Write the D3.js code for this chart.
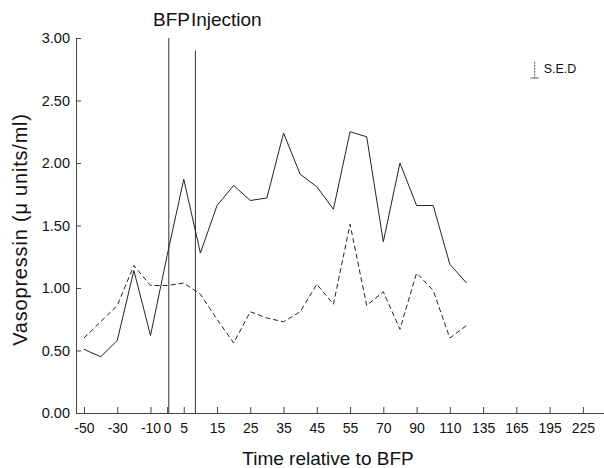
<!DOCTYPE html>
<html>
<head>
<meta charset="utf-8">
<script src="https://cdn.jsdelivr.net/npm/d3@7"></script>
<style>
  body { margin: 0; background: #fff; }
  svg { display: block; font-family: "Liberation Sans", Arial, Helvetica, sans-serif; }
</style>
</head>
<body>
<figure style="margin:0"></figure>
<script>
// time points (minutes relative to BFP), one category each
const times = [-50,-40,-30,-20,-10,0,5,10,15,20,25,30,35,40,45,50,55,60,70,80,90,100,110,120,135,150,165,180,195,210,225]
const tickTimes = [-50,-30,-10,0,5,15,25,35,45,55,70,90,110,135,165,195,225]
const yTicks = [0,0.5,1,1.5,2,2.5,3]

// measured times for the two curves
const seriesTimes = [-50,-40,-30,-20,-10,0,5,10,15,20,25,30,35,40,45,50,55,60,70,80,90,100,110,120]
const solidValues = [0.51,0.45,0.58,1.14,0.62,1.26,1.87,1.28,1.66,1.82,1.70,1.72,2.24,1.91,1.81,1.63,2.25,2.21,1.37,2.00,1.66,1.66,1.19,1.04]
const dashedValues = [0.60,0.73,0.86,1.18,1.02,1.02,1.04,0.95,0.75,0.56,0.81,0.76,0.73,0.81,1.03,0.87,1.51,0.86,0.97,0.67,1.12,0.98,0.60,0.70]

// BFP injection markers (time, top of line)
const injectTimes = [0.5, 8.5]
const injectTops = [3.0, 2.9]
const sedSize = 0.13

const svg = d3.select("figure").append("svg").attr("width", 604).attr("height", 468),
    margin = {top: 38, bottom: 55, left: 76, right: 0},
    width = 604 - margin.left - margin.right,
    height = 468 - margin.top - margin.bottom,
    chart = svg.append("g").attr("transform", `translate(${margin.left},${margin.top})`),
    x = d3.scaleLinear().domain([-0.48, 31.27]).range([0, width]),
    y = d3.scaleLinear().domain([0, 3]).range([height, 0])

// time -> fractional category index
const tIndex = t => {
    const i = d3.bisectRight(times, t) - 1
    if (i >= times.length - 1) return times.length - 1
    return i + (t - times[i]) / (times[i+1] - times[i])
}

// axes
const xAxis = chart.append("g").attr("transform", `translate(0,${height})`)
    .call(d3.axisBottom(x).tickValues(tickTimes.map(tIndex)).tickFormat(i => times[i])
        .tickSizeInner(-6).tickSizeOuter(0).tickPadding(10))
xAxis.selectAll("text").style("font-size", "14px").attr("fill", "#111")

const yAxis = chart.append("g")
    .call(d3.axisLeft(y).tickValues(yTicks).tickFormat(d3.format(".2f"))
        .tickSizeInner(-5).tickSizeOuter(0).tickPadding(6))
yAxis.selectAll("text").style("font-size", "14.5px").attr("fill", "#111")
svg.selectAll(".domain, .tick line").attr("stroke", "#444")

// injection lines
chart.selectAll("line.inject")
    .data(injectTimes)
    .enter()
    .append("line").classed("inject", true)
        .attr("x1", d => x(tIndex(d))).attr("x2", d => x(tIndex(d)))
        .attr("y1", (d, i) => y(injectTops[i])).attr("y2", height)
        .attr("stroke", "#333").attr("stroke-width", 1)

const line = d3.line().x((d, i) => x(tIndex(seriesTimes[i]))).y(d => y(d))

chart.append("path").datum(solidValues)
    .attr("d", line).attr("fill", "none").attr("stroke", "#222").attr("stroke-width", 1)

chart.append("path").datum(dashedValues)
    .attr("d", line).attr("fill", "none").attr("stroke", "#222").attr("stroke-width", 1)
    .attr("stroke-dasharray", "5,3")

// S.E.D legend
const sed = chart.append("g").attr("transform", `translate(${x(27.1)},0)`)
sed.append("line").attr("x1", 0).attr("x2", 0).attr("y1", y(2.81)).attr("y2", y(2.81 - sedSize))
    .attr("stroke", "#555").attr("stroke-dasharray", "2,1")
sed.append("line").attr("x1", -4).attr("x2", 4).attr("y1", y(2.81 - sedSize)).attr("y2", y(2.81 - sedSize))
    .attr("stroke", "#555")
sed.append("text").text("S.E.D")
    .attr("x", 9).attr("y", y(2.81 - sedSize / 2))
    .attr("dominant-baseline", "middle")
    .style("font-size", "12.5px").attr("fill", "#111")

// titles
svg.append("text").text("BFP Injection")
    .attr("x", 153).attr("y", 26)
    .style("font-size", "19px").style("word-spacing", "-4px").attr("fill", "#111")

svg.append("text").text("Time relative to BFP")
    .attr("x", 328).attr("y", 465)
    .attr("text-anchor", "middle")
    .style("font-size", "19px").attr("fill", "#111")

svg.append("text").text("Vasopressin (μ units/ml)")
    .attr("transform", `translate(27,${margin.top + y(1.5) + 4}) rotate(-90)`)
    .attr("text-anchor", "middle")
    .style("font-size", "20px").style("letter-spacing", "0.8px").attr("fill", "#111")
</script>
</body>
</html>
